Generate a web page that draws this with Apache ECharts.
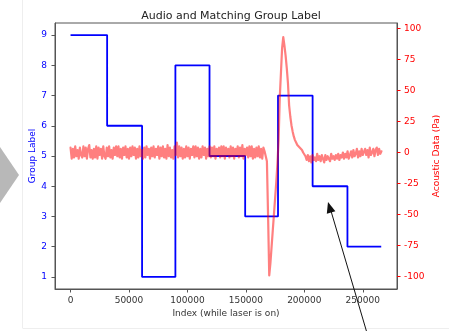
<!DOCTYPE html>
<html>
<head>
<meta charset="utf-8">
<script src="https://cdn.jsdelivr.net/npm/echarts@6/dist/echarts.min.js"></script>
<style>
    html, body {margin: 0; padding: 0; background: #fff;}
    #chart {width: 449px; height: 331px;}
</style>
</head>
<body>
<div id="chart"></div>
<script>
// group label steps (index where each group starts, last entry = end of data)
var groupEdges = [0, 31300, 61200, 89700, 118900, 149400, 177500, 207100, 236900, 265800];
var groupLabels = [9, 6, 1, 8, 5, 3, 7, 4, 2];

// acoustic samples, one every 1000 index
var sampleStep = 1000;
var acousticValues = [
    4, -5, 3, -4, 5, -3, 2, -5, 4, -2,
    -4, 5, -3, 4, -5, 3, 6, -4, 2, -5,
    3, -4, 5, -5, 4, -2, 3, -5, 5, -3,
    -5, 4, -3, 5, -4, 2, -5, 4, -2, 5,
    -3, 5, -4, 3, -5, 4, -2, 5, -4, 3,
    -5, 4, -3, 5, -2, 4, -5, 3, -4, 5,
    -3, 2, -5, 4, -4, 5, -2, 3, -5, 4,
    -3, 5, -4, 3, -2, 5, -5, 4, -3, 5,
    -4, 3, -5, 6, -3, 4, -4, 2, -5, 5,
    -2, 8, -4, 5, -3, 4, -5, 3, -4, 5,
    -3, 4, -5, 3, -2, 5, -4, 5, -3, 4,
    -5, 3, -4, 5, -2, 4, -5, 3, -3, 5,
    -4, 4, -3, 5, -5, 3, -2, 4, -4, 5,
    -3, 5, -5, 4, -2, 3, -4, 5, -3, 4,
    -5, 3, -2, 5, -4, 4, -3, 6, -5, 3,
    -2, 4, -4, 5, -3, 5, -5, 3, -4, 4,
    -3, 5, -4, 3, -5, 4, 1,
    2, -7, -51, -99, -89, -76, -63, -50, -37, -24,
    -9, 10, 44, 64, 84, 93, 86, 78, 68, 56,
    38, 29, 22, 17, 13, 10, 8, 6, 5, 4,
    3, 2, 0, -1, -3,
    -6, -2, -7, -3, -8, -2, -6, -4, -7, -1,
    -6, -3, -7, -2, -5, -8, -2, -6, -3, -5,
    -7, -1, -5, -3, -6, -2, -5, -1, -6, -2,
    -4, 0, -5, -1, -4, 1, -5, -2, 1, -4,
    2, -3, -1, 3, -4, 1, -3, 3, -2, -3,
    3, -2, 2, -4, 4, -2, 0, 3, -3, 2,
    4, -2, 3, -1, 1
];

var xTicks = [0, 50000, 100000, 150000, 200000, 250000];
var groupTicks = [1, 2, 3, 4, 5, 6, 7, 8, 9];
var acousticTicks = [-100, -75, -50, -25, 0, 25, 50, 75, 100];

var font = 'DejaVu Sans';

var groupData = [];
for (var i = 0; i < groupLabels.length; i++) {
    groupData.push([groupEdges[i], groupLabels[i]]);
}
groupData.push([groupEdges[groupEdges.length - 1], groupLabels[groupLabels.length - 1]]);

var acousticData = acousticValues.map(function (v, i) {
    return [i * sampleStep, v];
});

var plain = function (v) { return String(v); };

var chart = echarts.init(document.getElementById('chart'), null, {renderer: 'canvas'});

var option = {
    animation: false,
    title: {
        text: 'Audio and Matching Group Label',
        left: 226,
        top: 6,
        textAlign: 'center',
        textStyle: {fontSize: 11, fontWeight: 'normal', color: '#222', fontFamily: font}
    },
    grid: {
        left: 55, right: 51, top: 23, bottom: 42,
        show: true, borderColor: '#555', borderWidth: 1
    },
    xAxis: {
        type: 'value',
        min: -13300,
        max: 279300,
        splitLine: {show: false},
        axisLine: {show: true, onZero: false, lineStyle: {color: '#555'}},
        axisTick: {show: true, length: 3.5, customValues: xTicks, lineStyle: {color: '#555'}},
        axisLabel: {customValues: xTicks, formatter: plain, fontSize: 9, color: '#333', margin: 7, fontFamily: font},
        name: 'Index (while laser is on)',
        nameLocation: 'middle',
        nameGap: 20,
        nameMoveOverlap: false,
        nameTextStyle: {fontSize: 9, color: '#333', fontFamily: font}
    },
    yAxis: [
        {
            type: 'value',
            position: 'left',
            min: 0.6,
            max: 9.4,
            splitLine: {show: false},
            axisLine: {show: true, onZero: false, lineStyle: {color: '#555'}},
            axisTick: {show: true, length: 3.5, customValues: groupTicks, lineStyle: {color: '#555'}},
            axisLabel: {customValues: groupTicks, formatter: plain, fontSize: 9, color: 'blue', margin: 8, fontFamily: font},
            name: 'Group Label',
            nameLocation: 'middle',
            nameGap: 18,
            nameMoveOverlap: false,
            nameTextStyle: {fontSize: 9, color: 'blue', fontFamily: font}
        },
        {
            type: 'value',
            position: 'right',
            min: -109.9,
            max: 104.3,
            splitLine: {show: false},
            axisLine: {show: true, onZero: false, lineStyle: {color: '#555'}},
            axisTick: {show: true, length: 3.5, customValues: acousticTicks, lineStyle: {color: 'red'}},
            axisLabel: {customValues: acousticTicks, formatter: plain, fontSize: 9, color: 'red', margin: 7, fontFamily: font},
            name: 'Acoustic Data (Pa)',
            nameLocation: 'middle',
            nameGap: 35,
            nameMoveOverlap: false,
            nameTextStyle: {fontSize: 9, color: 'red', fontFamily: font}
        }
    ],
    series: [
        {
            name: 'Group',
            type: 'line',
            xAxisIndex: 0,
            yAxisIndex: 0,
            step: 'end',
            showSymbol: false,
            data: groupData,
            lineStyle: {color: 'blue', width: 1.8},
            z: 2
        },
        {
            name: 'Acoustic',
            type: 'line',
            xAxisIndex: 0,
            yAxisIndex: 1,
            showSymbol: false,
            data: acousticData,
            lineStyle: {color: 'rgba(255,0,0,0.5)', width: 2.2, join: 'round', cap: 'round'},
            z: 3
        }
    ],
    graphic: [
        // faint border of the pasted figure
        {type: 'line', shape: {x1: 22.5, y1: 0, x2: 22.5, y2: 328}, style: {stroke: '#eee', lineWidth: 1}, silent: true},
        {type: 'line', shape: {x1: 22.5, y1: 328.5, x2: 449, y2: 328.5}, style: {stroke: '#eee', lineWidth: 1}, silent: true},
        // grey chevron on the left edge
        {type: 'polygon', shape: {points: [[0, 147], [19, 175], [0, 203]]}, style: {fill: '#b8b8b8'}, silent: true},
        // black annotation arrow
        {type: 'line', shape: {x1: 367, y1: 333, x2: 331, y2: 211}, style: {stroke: '#111', lineWidth: 1}, silent: true, z: 100},
        {type: 'polygon', shape: {points: [[328, 202], [335.4, 211.3], [326.8, 213.8]]}, style: {fill: '#111'}, silent: true, z: 100}
    ]
};

chart.setOption(option);
</script>
</body>
</html>
